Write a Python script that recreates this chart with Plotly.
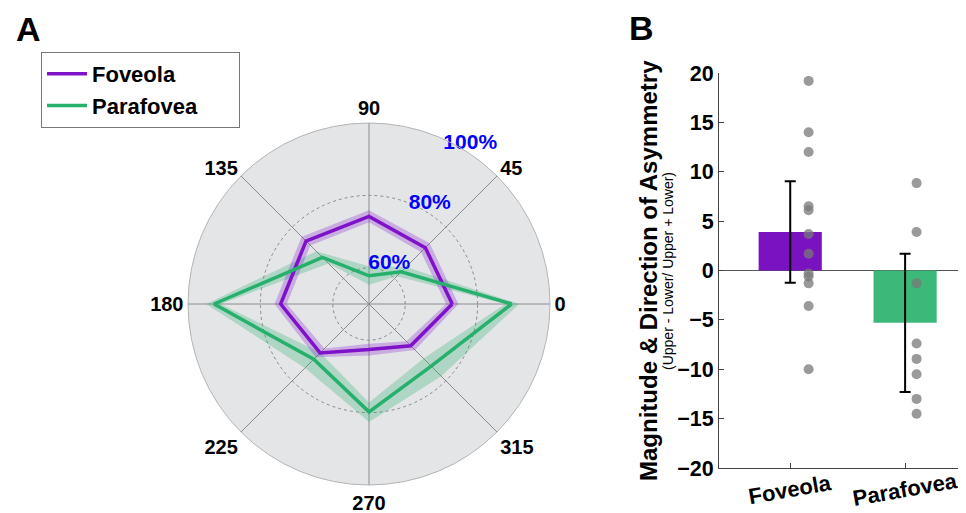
import plotly.graph_objects as go

# ---------------- data ----------------
angles = [0, 45, 90, 135, 180, 225, 270, 315]

foveola_mean = [73.0, 72.0, 74.2, 74.6, 74.4, 69.1, 62.6, 66.3]
foveola_lo = [71.3, 70.3, 72.6, 72.9, 72.7, 67.4, 61.0, 64.6]
foveola_hi = [74.7, 73.7, 75.9, 76.3, 76.1, 70.8, 64.2, 68.0]

parafovea_mean = [89.4, 62.6, 57.8, 68.2, 92.8, 71.6, 79.8, 74.3]
parafovea_lo = [87.6, 60.8, 55.3, 65.8, 91.0, 69.0, 77.2, 71.3]
parafovea_hi = [91.5, 64.5, 60.4, 70.6, 95.0, 75.0, 82.6, 78.2]

r_ticks = [60, 80, 100]
r_tick_labels = ["60%", "80%", "100%"]
theta_ticks = [0, 45, 90, 135, 180, 225, 270, 315]

groups = ["Foveola", "Parafovea"]
bar_means = [3.9, -5.3]
bar_err = [5.15, 7.0]

foveola_pts = [19.2, 14.0, 12.0, 6.5, 6.1, 3.7, 1.7, -0.3, -0.6, -1.3, -3.6, -10.0]
parafovea_pts = [8.85, 3.9, -1.3, -7.4, -8.95, -10.5, -13.0, -14.5]

y_ticks = [20, 15, 10, 5, 0, -5, -10, -15, -20]

y_title = "Magnitude & Direction of Asymmetry"
y_subtitle = "(Upper - Lower/ Upper + Lower)"

# ---------------- style ----------------
PURPLE = "#7e12c8"
GREEN = "#26b06c"
PURPLE_BAR = "#7a12c2"
GREEN_BAR = "#3cb878"
FONT = "Liberation Sans"

# page has an 8px body margin: figure drawn at (8, 8)
OFF = 8
W, H = 966 - OFF, 513 - OFF


def px(x):
    return (x - OFF) / W


def py(y):
    return 1 - (y - OFF) / H


fig = go.Figure()


def band(lo, hi, color):
    th = angles + [angles[0]] + [angles[0]] + angles[::-1]
    rr = hi + [hi[0]] + [lo[0]] + lo[::-1]
    return go.Scatterpolar(r=rr, theta=th, mode="lines", fill="toself",
                           fillcolor=color, line=dict(width=0),
                           showlegend=False, hoverinfo="skip", subplot="polar")


fig.add_trace(band(parafovea_lo, parafovea_hi, "rgba(38,176,108,0.28)"))
fig.add_trace(band(foveola_lo, foveola_hi, "rgba(140,40,210,0.30)"))

PAD = "&nbsp;" * 6
fig.add_trace(go.Scatterpolar(r=foveola_mean + [foveola_mean[0]], theta=angles + [angles[0]],
                              mode="lines", line=dict(color=PURPLE, width=3.5),
                              name=groups[0] + PAD, legendgroup="f", subplot="polar"))
fig.add_trace(go.Scatterpolar(r=parafovea_mean + [parafovea_mean[0]], theta=angles + [angles[0]],
                              mode="lines", line=dict(color=GREEN, width=3.5),
                              name=groups[1] + PAD, legendgroup="p", subplot="polar"))

fig.add_trace(go.Scatterpolar(r=r_ticks, theta=[56] * len(r_ticks), mode="text",
                              text=r_tick_labels, textposition="top center",
                              textfont=dict(color="#0000ff", size=21, family=FONT, weight="bold"),
                              cliponaxis=False, showlegend=False, hoverinfo="skip",
                              subplot="polar"))

# ---------------- bar chart ----------------
fig.add_trace(go.Bar(x=[0, 1], y=bar_means, width=0.55,
                     marker=dict(color=[PURPLE_BAR, GREEN_BAR], line=dict(width=0)),
                     error_y=dict(type="data", array=bar_err, color="black",
                                  thickness=2, width=5.5),
                     showlegend=False, xaxis="x", yaxis="y"))

fig.add_trace(go.Scatter(x=[0.16] * len(foveola_pts), y=foveola_pts, mode="markers",
                         marker=dict(color="rgba(120,120,120,0.75)", size=10),
                         showlegend=False, xaxis="x", yaxis="y"))
fig.add_trace(go.Scatter(x=[1.1] * len(parafovea_pts), y=parafovea_pts, mode="markers",
                         marker=dict(color="rgba(120,120,120,0.75)", size=10),
                         showlegend=False, xaxis="x", yaxis="y"))

cx, cy, R = 369, 304, 181

annotations = [
    dict(text="A", x=px(28), y=py(29), xref="paper", yref="paper", showarrow=False,
         xanchor="center", yanchor="middle",
         font=dict(size=34, family=FONT, weight="bold")),
    dict(text="B", x=px(641), y=py(28), xref="paper", yref="paper", showarrow=False,
         xanchor="center", yanchor="middle",
         font=dict(size=34, family=FONT, weight="bold")),
    dict(text=y_title, x=px(648), y=py(271), xref="paper", yref="paper", showarrow=False,
         xanchor="center", yanchor="middle",
         textangle=-90, font=dict(size=24, family=FONT, weight="bold")),
    dict(text=y_subtitle, x=px(668), y=py(271), xref="paper", yref="paper", showarrow=False,
         xanchor="center", yanchor="middle",
         textangle=-90, font=dict(size=14, family=FONT, weight="normal")),
]
for i, g in enumerate(groups):
    annotations.append(dict(text=g, x=i, y=py(489), xref="x", yref="paper", showarrow=False,
                            xanchor="center", yanchor="middle", textangle=-10,
                            font=dict(size=22, family=FONT, weight="bold")))

fig.update_layout(
    template="none",
    width=W, height=H,
    margin=dict(l=0, r=0, t=0, b=0, autoexpand=False),
    paper_bgcolor="white", plot_bgcolor="white",
    font=dict(family=FONT, color="black", size=18, weight="bold"),
    polar=dict(
        domain=dict(x=[px(cx - R), px(cx + R)], y=[py(cy + R), py(cy - R)]),
        bgcolor="#e4e5e7",
        radialaxis=dict(range=[50, 100], tickvals=r_ticks, showticklabels=False,
                        ticks="", showline=False, gridcolor="#8a8a8a", griddash="dot",
                        gridwidth=1),
        angularaxis=dict(rotation=0, direction="counterclockwise", tickvals=theta_ticks,
                         ticks="", gridcolor="#8c8c8c", gridwidth=1,
                         showline=True, linecolor="#b4b4b4", linewidth=1,
                         tickfont=dict(size=20, family=FONT, weight="bold")),
    ),
    xaxis=dict(domain=[px(719), 1.0], range=[-0.62, 1.53], tickvals=[0, 1],
               showticklabels=False,
               ticks="inside", ticklen=5, tickcolor="#444",
               showline=True, linecolor="#444", linewidth=1, showgrid=False, zeroline=False,
               automargin=False),
    yaxis=dict(domain=[py(468), py(73)], range=[-20, 20], tickvals=y_ticks,
               ticks="inside", ticklen=5, tickcolor="#444",
               showline=True, linecolor="#444", linewidth=1, showgrid=False,
               zeroline=True, zerolinecolor="#555", zerolinewidth=1, automargin=False,
               tickfont=dict(size=21.5, family=FONT, weight="bold")),
    legend=dict(x=px(41), y=py(52), xanchor="left", yanchor="top",
                bgcolor="white", bordercolor="#777", borderwidth=1,
                font=dict(size=22, family=FONT, weight="bold"),
                itemwidth=40, tracegroupgap=0),
    annotations=annotations,
)

fig.write_html("out.html")
